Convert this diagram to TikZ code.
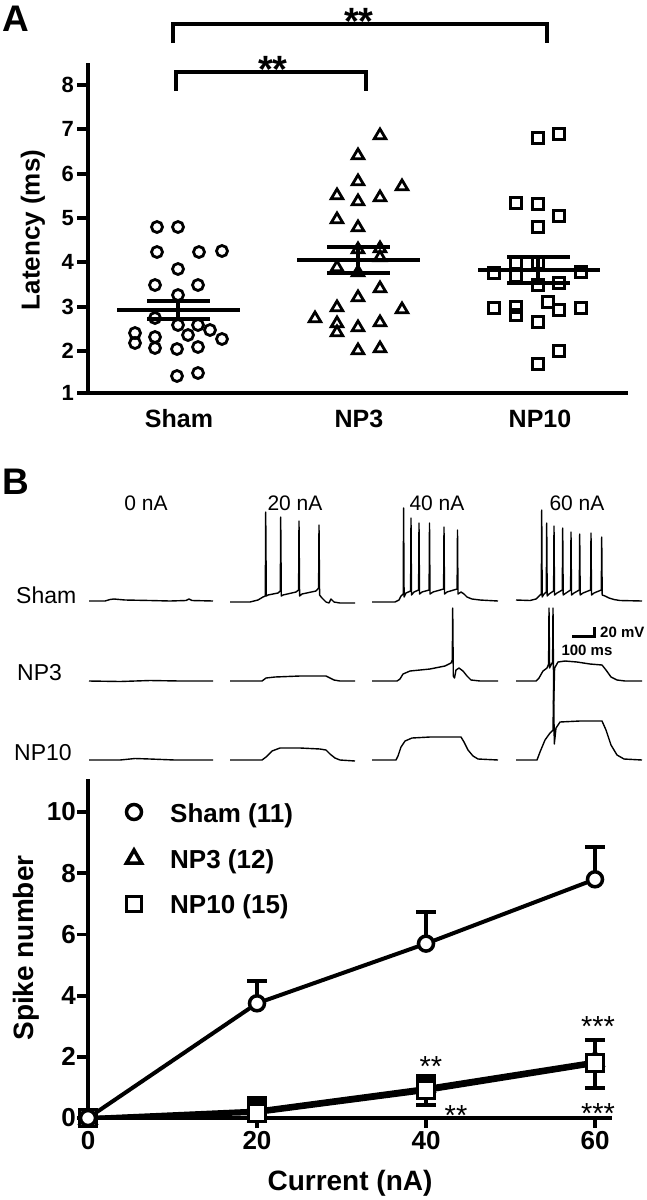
\documentclass[tikz,border=0pt]{standalone}
\usepackage{fontspec}
\setmainfont{Liberation Sans}
\newcommand\myfs[1]{\fontsize{#1}{#1}\selectfont}
\begin{document}
\begin{tikzpicture}[x=1pt,y=-1pt,
 axisA/.style={line width=4pt},
 axisB/.style={line width=3.8pt},
 brk/.style={line width=3.8pt},
 meanln/.style={line width=4.2pt},
 semln/.style={line width=3.8pt},
 mk/.style={line width=2.8pt},
 mkB/.style={line width=3.5pt, fill=white},
 dataln/.style={line width=4pt, line join=round},
 errln/.style={line width=3.8pt},
 trace/.style={line width=1.4pt, line join=round},
 plab/.style={font=\myfs{37}\bfseries, anchor=base west, inner sep=0},
 tickA/.style={font=\myfs{22}\bfseries, anchor=east, inner sep=0},
 catA/.style={font=\myfs{25}\bfseries, anchor=base, inner sep=0},
 titleA/.style={font=\myfs{26}\bfseries, rotate=90, inner sep=0},
 starA/.style={font=\myfs{38}\bfseries, anchor=base, inner sep=0},
 curlab/.style={font=\myfs{21}, anchor=base, inner sep=0},
 trlab/.style={font=\myfs{23}, anchor=base west, inner sep=0},
 sclab/.style={font=\myfs{15}\bfseries, inner sep=0},
 tickB/.style={font=\myfs{26}\bfseries, inner sep=0},
 titleB/.style={font=\myfs{28}\bfseries, inner sep=0},
 legB/.style={font=\myfs{26}\bfseries, anchor=base west, inner sep=0},
 starB/.style={font=\myfs{29}, anchor=base, inner sep=0}
]
\useasboundingbox[fill=white] (0,0) rectangle (646,1200);

% ================= Panel A =================
\node[plab] (labA) at (2,31) {A};
\draw[axisA] (88,63) -- (88,393) -- (628,393);
\foreach \v/\y in {1/393,2/350.8,3/306.5,4/262.2,5/217.9,6/173.6,7/129.3,8/85}{
  \draw[axisA] (77,\y) -- (88,\y);
  \node[tickA] (ta\v) at (74,\y) {\v};
}
\node[titleA] (ylabA) at (33,230) {Latency (ms)};
\node[catA] (cSham) at (179,427) {Sham};
\node[catA] (cNP3) at (359,427) {NP3};
\node[catA] (cNP10) at (540,427) {NP10};

% brackets
\draw[brk] (173,43) -- (173,24) -- (547,24) -- (547,43);
\node[starA] (sA1) at (359,34.5) {**};
\draw[brk] (176,91) -- (176,72) -- (366,72) -- (366,91);
\node[starA] (sA2) at (273,82) {**};

% Sham circles
\foreach \x/\y in {157/227,178/227,157/252,199/252,222/251,178/269,155/285,198/285,178/295,
  155/318,178/325,198/325,210/330,222/339,188/335,135/333,135/343,155/337,155/348,177/349,
  198/347,177/376,198/373}
  \draw[mk] (\x,\y) circle[radius=5.5pt];
% NP3 triangles
\foreach \x/\y in {380/135,358/155,358/181,402/186,337/195,358/201,380/197,337/219,358/227,
  358/249,380/248,380/257,337/267,358/272,358/297,380/288,337/307,402/309,315/318,337/323,
  337/332,358/327,380/322,358/350,380/348}
  \draw[mk] (\x,\y) ++(0,-6) -- ++(5.8,9.8) -- ++(-11.6,0) -- cycle;
% NP10 squares
\foreach \x/\y in {538/138,559/134,516/203,538/204,559/216,538/227,494/273,516/263,516/276,
  538/263,538/285,559/283,581/272,494/308,516/307,516/315,548/302,559/310,581/308,538/322,
  559/351,538/364}
  \draw[mk] (\x,\y) ++(-5.2,-5.2) rectangle ++(10.4,10.4);

% means and SEM
\draw[meanln] (117,310) -- (240,310);
\draw[semln] (147,301) -- (210,301) (147,319) -- (210,319) (178,301) -- (178,319);
\draw[meanln] (297,260) -- (420,260);
\draw[semln] (327,247) -- (390,247) (327,273) -- (390,273) (358,247) -- (358,273);
\draw[meanln] (478,270) -- (600,270);
\draw[semln] (507,257) -- (570,257) (507,283) -- (570,283) (538,257) -- (538,283);

% ================= Panel B traces =================
\node[plab] (labB) at (2,494) {B};
\node[curlab] (i0) at (146,510) {0 nA};
\node[curlab] (i20) at (295,510) {20 nA};
\node[curlab] (i40) at (437,510) {40 nA};
\node[curlab] (i60) at (577,510) {60 nA};
\node[trlab] (tSham) at (16,603) {Sham};
\node[trlab] (tNP3) at (17,680) {NP3};
\node[trlab] (tNP10) at (14,760) {NP10};

% Sham traces
\draw[trace] (89,601) -- (105,601) -- (110,599.5) -- (114,599) -- (125,600) -- (150,600.5) -- (170,601) -- (186,600.5) -- (189,599) -- (192,600.5) -- (213,601);
\draw[trace] (230,602) -- (250,602) -- (258,600) -- (263,597) -- (265.3,596) -- (265.7,512) -- (266.3,596) -- (268,595) -- (278,593) -- (280.3,591) -- (280.7,517) -- (281.3,596) -- (283,595) -- (296,592) -- (298.6,590) -- (299,521) -- (299.6,596) -- (302,594) -- (316,591) -- (318.6,588) -- (319,525) -- (319.6,595) -- (322,598) -- (326,602) -- (329,603) -- (331,599) -- (334,602) -- (340,603) -- (355,603);
\draw[trace] (372,602) -- (395,602) -- (399,600) -- (401,596) -- (403.2,594) -- (403.6,508) -- (404.1,597) -- (406,593) -- (410.6,591) -- (411,518) -- (411.5,595) -- (414,592) -- (418.6,590) -- (419,523) -- (419.5,594) -- (422,592) -- (429.1,590) -- (429.5,523) -- (430,594) -- (433,592) -- (443.6,589) -- (444,527) -- (444.5,594) -- (447,592) -- (457.1,589) -- (457.5,530) -- (458,594) -- (461,592) -- (464,594) -- (467,597) -- (472,599) -- (480,600) -- (498,601);
\draw[trace] (516,600) -- (530,600.5) -- (536,599) -- (539,596) -- (541.3,594) -- (541.7,510) -- (542.2,597) -- (544,594) -- (546.3,592) -- (546.7,523) -- (547.2,596) -- (549,594) -- (553.6,591) -- (554,526) -- (554.5,595) -- (557,593) -- (562.3,590) -- (562.7,528) -- (563.2,595) -- (566,593) -- (570.6,590) -- (571,532) -- (571.5,595) -- (574,593) -- (579.3,590) -- (579.7,534) -- (580.2,595) -- (583,593) -- (590.6,590) -- (591,533) -- (591.5,595) -- (594,593) -- (601.3,590) -- (601.7,537) -- (602.2,595) -- (605,596) -- (609,598) -- (614,599.5) -- (620,600.5) -- (642,601);
% NP3 traces
\draw[trace] (89,681) -- (120,681.5) -- (150,680.5) -- (180,681) -- (213,681);
\draw[trace] (230,681) -- (262,681) -- (266,678) -- (275,677) -- (300,676) -- (326,676) -- (330,678) -- (334,680) -- (340,681) -- (355,681);
\draw[trace] (372,681) -- (397,681) -- (400,679) -- (403,674) -- (410,671) -- (430,669) -- (445,666) -- (451,663) -- (452.3,660) -- (452.7,608) -- (453.3,676) -- (454.5,678) -- (456,670) -- (459,668) -- (463,671) -- (467,676) -- (471,680) -- (480,681) -- (498,681);
\draw[trace] (516,681) -- (536,681) -- (539,678) -- (543,671) -- (547,668) -- (548.6,664) -- (549,608) -- (549.6,668) -- (551,665) -- (552.6,662) -- (553,608) -- (553.7,705) -- (554.6,668) -- (558,662) -- (565,661) -- (577,662) -- (590,664) -- (602,665) -- (606,670) -- (611,677) -- (617,680) -- (625,681) -- (642,681);
% NP10 traces
\draw[trace] (89,760) -- (120,760) -- (135,758.5) -- (150,759) -- (175,760) -- (213,760);
\draw[trace] (230,760) -- (262,760) -- (266,757) -- (272,751) -- (280,748) -- (300,748) -- (320,749) -- (326,750) -- (330,754) -- (335,758) -- (340,760) -- (355,761);
\draw[trace] (372,760) -- (396,760) -- (398,756) -- (401,747) -- (405,741) -- (412,738) -- (430,737) -- (461,737) -- (464,742) -- (468,750) -- (473,756) -- (478,759) -- (498,760);
\draw[trace] (516,760) -- (537,760) -- (540,752) -- (545,740) -- (550,733) -- (553,730) -- (553.6,690) -- (554.3,744) -- (556,728) -- (560,722) -- (580,721) -- (602,721) -- (606,730) -- (611,745) -- (617,755) -- (624,759) -- (642,760);

% scale bar
\draw[line width=3pt] (572,636) -- (594.5,636) -- (594.5,627);
\node[sclab, anchor=base west] (s20) at (600,637) {20 mV};
\node[sclab, anchor=base] (s100) at (587,655) {100 ms};

% ================= Panel B chart =================
\draw[axisB] (88,779) -- (88,1118) -- (612,1118);
\foreach \v/\y in {0/1118,2/1056.8,4/995.6,6/934.4,8/873.2,10/812}{
  \draw[axisB] (77,\y) -- (88,\y);
  \node[tickB, anchor=east] (tb\v) at (76,\y) {\v};
}
\foreach \c/\x in {0/88,20/257,40/426,60/595}{
  \draw[axisB] (\x,1118) -- (\x,1128);
  \node[tickB] (xb\c) at (\x,1141) {\c};
}
\node[titleB, rotate=90] (ylabB) at (26,948) {Spike number};
\node[titleB] (xlabB) at (350,1183) {Current (nA)};

% legend
\draw[mkB] (134,812) circle[radius=7.5pt];
\draw[mkB] (134,858) ++(0,-8) -- ++(7.5,13) -- ++(-15,0) -- cycle;
\draw[mkB] (134,904) ++(-7.5,-7.5) rectangle ++(15,15);
\node[legB] (lg1) at (170,822) {Sham (11)};
\node[legB] (lg2) at (170,868) {NP3 (12)};
\node[legB] (lg3) at (170,913) {NP10 (15)};

% data lines
\draw[dataln] (88,1118) -- (257,1110.5) -- (426,1088) -- (595,1061.5);
\draw[dataln] (88,1118) -- (257,1113) -- (426,1091) -- (595,1064);
\draw[dataln] (88,1118) -- (257,1003.3) -- (426,943.6) -- (595,879.3);

% error bars
\draw[errln] (257,1003) -- (257,981) (247,981) -- (267,981);
\draw[errln] (426,943) -- (426,912) (416,912) -- (436,912);
\draw[errln] (595,879) -- (595,847) (585,847) -- (605,847);
\draw[errln] (257,1128) -- (257,1098) (247,1098) -- (267,1098) (247,1102) -- (267,1102);
\draw[errln] (426,1076) -- (426,1105) (416,1076) -- (436,1076) (416,1080) -- (436,1080) (416,1105) -- (436,1105);
\draw[errln] (595,1040) -- (595,1088) (585,1040) -- (605,1040) (585,1088) -- (605,1088);

% markers
\foreach \x/\y in {88/1118,257/1110,426/1086,595/1060}
  \draw[mkB] (\x,\y) ++(0,-8) -- ++(7.5,13) -- ++(-15,0) -- cycle;
\foreach \x/\y in {88/1118,257/1113,426/1090,595/1063}
  \draw[mkB] (\x,\y) ++(-8.5,-8.5) rectangle ++(17,17);
\foreach \x/\y in {88/1118,257/1003.3,426/943.6,595/879.3}
  \draw[mkB] (\x,\y) circle[radius=7.5pt];

% stars
\node[starB] (sb1) at (431,1076) {**};
\node[starB] (sb2) at (456,1125) {**};
\node[starB] (sb3) at (598,1036) {***};
\node[starB] (sb4) at (598,1123) {***};
\end{tikzpicture}
\end{document}
